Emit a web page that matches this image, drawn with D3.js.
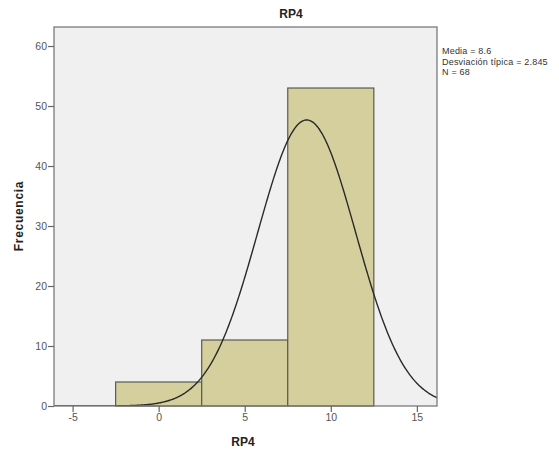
<!DOCTYPE html>
<html><head><meta charset="utf-8">
<script src="https://cdn.jsdelivr.net/npm/d3@7"></script>
<style>body{margin:0;background:#fff}</style>
</head><body>
<script>
const binStarts = [-2.5, 2.5, 7.5];
const binEnds = [2.5, 7.5, 12.5];
const counts = [4, 11, 53];
const xTicks = [-5, 0, 5, 10, 15];
const yTicks = [0, 10, 20, 30, 40, 50, 60];
const mean = 8.6, sd = 2.845, n = 68, binWidth = 5;
const legendLines = ["Media = 8.6", "Desviación típica = 2.845", "N = 68"];

const W = 559, H = 451;
const svg = d3.select("body").append("svg").attr("width", W).attr("height", H);
const L = 54, R = 437, T = 27, B = 406;
const x = d3.scaleLinear().domain([-6.08, 16.17]).range([L, R]);
const y = d3.scaleLinear().domain([0, 63.17]).range([B, T]);
const FONT = "Arial, 'Liberation Sans', sans-serif";

svg.append("rect").attr("x", L).attr("y", T).attr("width", R - L).attr("height", B - T)
  .attr("fill", "#f0f0f0");

svg.append("defs").append("clipPath").attr("id", "clip")
  .append("rect").attr("x", L).attr("y", T).attr("width", R - L).attr("height", B - T);

svg.append("g").selectAll("rect").data(counts).join("rect")
  .attr("x", (d, i) => x(binStarts[i]))
  .attr("width", (d, i) => x(binEnds[i]) - x(binStarts[i]))
  .attr("y", d => y(d))
  .attr("height", d => y(0) - y(d))
  .attr("fill", "#d4cf9c").attr("stroke", "#5a5a50").attr("stroke-width", 1.2);

const pts = d3.range(-6.1, 16.25, 0.05).map(v => [v, n * binWidth / (sd * Math.sqrt(2 * Math.PI)) * Math.exp(-0.5 * ((v - mean) / sd) ** 2)]);
svg.append("path").datum(pts).attr("clip-path", "url(#clip)")
  .attr("d", d3.line().x(d => x(d[0])).y(d => y(d[1])).curve(d3.curveBasis))
  .attr("fill", "none").attr("stroke", "#2a2a2a").attr("stroke-width", 1.4);

svg.append("rect").attr("x", L).attr("y", T).attr("width", R - L).attr("height", B - T)
  .attr("fill", "none").attr("stroke", "#7a7a7a").attr("stroke-width", 1.3);

const yAxis = svg.append("g").attr("transform", `translate(${L},0)`)
  .call(d3.axisLeft(y).tickValues(yTicks).tickSize(6).tickPadding(1).tickFormat(d => String(d)));
const xAxis = svg.append("g").attr("transform", `translate(0,${B})`)
  .call(d3.axisBottom(x).tickValues(xTicks).tickSize(6).tickPadding(2).tickFormat(d => String(d)));
[yAxis, xAxis].forEach(g => {
  g.select(".domain").remove();
  g.selectAll("line").attr("stroke", "#666").attr("stroke-width", 1.2);
  g.selectAll("text").attr("fill", "#555").attr("font-family", FONT).attr("font-size", 10.5);
});

svg.append("text").attr("x", 291).attr("y", 18).attr("text-anchor", "middle")
  .attr("font-family", FONT).attr("font-weight", "bold").attr("font-size", 12)
  .attr("fill", "#222").text("RP4");
svg.append("text").attr("x", 243).attr("y", 446).attr("text-anchor", "middle")
  .attr("font-family", FONT).attr("font-weight", "bold").attr("font-size", 12)
  .attr("fill", "#222").text("RP4");
svg.append("text").attr("transform", "translate(23,216) rotate(-90)").attr("text-anchor", "middle")
  .attr("font-family", FONT).attr("font-weight", "bold").attr("font-size", 12)
  .attr("fill", "#222").attr("letter-spacing", 0.7).text("Frecuencia");

svg.append("g").selectAll("text").data(legendLines).join("text")
  .attr("x", 442).attr("y", (d, i) => 54 + i * 10.5)
  .attr("font-family", FONT).attr("font-size", 9).attr("letter-spacing", 0.2)
  .attr("fill", "#333").text(d => d);
</script>
</body></html>
